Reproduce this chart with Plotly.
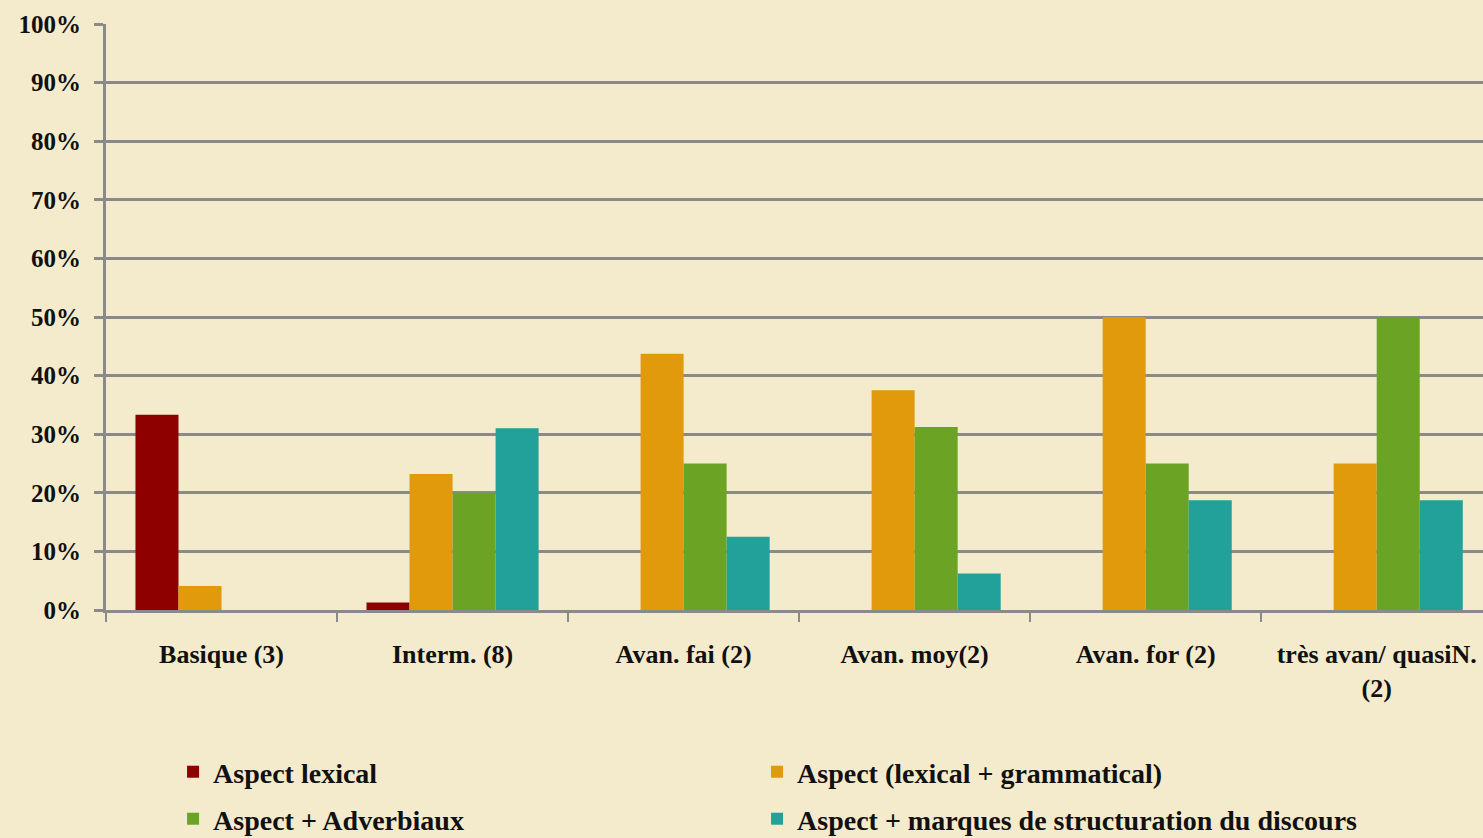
import plotly.graph_objects as go

categories = ["Basique (3)", "Interm. (8)", "Avan. fai (2)", "Avan. moy(2)", "Avan. for (2)", "très avan/ quasiN.<br>(2)"]
series_names = ["Aspect lexical", "Aspect (lexical + grammatical)", "Aspect + Adverbiaux", "Aspect + marques de structuration du discours"]
lexical = [0.333, 0.013, 0, 0, 0, 0]
lex_gram = [0.041, 0.232, 0.4375, 0.375, 0.50, 0.25]
adverbiaux = [0, 0.20, 0.25, 0.3125, 0.25, 0.50]
structuration = [0, 0.31, 0.125, 0.0625, 0.1875, 0.1875]
y_ticks = [0, 0.1, 0.2, 0.3, 0.4, 0.5, 0.6, 0.7, 0.8, 0.9, 1.0]
y_tick_labels = ["0%", "10%", "20%", "30%", "40%", "50%", "60%", "70%", "80%", "90%", "100%"]

colors = ["#8E0000", "#E09A0C", "#6BA424", "#21A19A"]
values = [lexical, lex_gram, adverbiaux, structuration]
legend_ids = ["legend", "legend2", "legend3", "legend4"]
legend_pos = [(0.0487, -0.2765), (0.4728, -0.2765), (0.0487, -0.3567), (0.4728, -0.3567)]

FONT = "Liberation Serif"
BG = "#F4EBCD"
GRID = "#8A8A8A"
TXT = "#111111"

fig = go.Figure()
for name, vals, col, lg in zip(series_names, values, colors, legend_ids):
    fig.add_trace(go.Bar(
        x=categories, y=vals, name=name, marker=dict(color=col, line=dict(width=0)),
        legend=lg, showlegend=True,
    ))

legend_layout = {}
for lg, (lx, ly) in zip(legend_ids, legend_pos):
    legend_layout[lg] = dict(
        x=lx, y=ly, xanchor="left", yanchor="middle", itemwidth=30,
        font=dict(family=FONT, size=28, weight="bold", color=TXT),
        bgcolor="rgba(0,0,0,0)",
    )

fig.update_layout(
    width=1483, height=838,
    paper_bgcolor=BG, plot_bgcolor=BG,
    margin=dict(l=106, r=0, t=24, b=228, autoexpand=False),
    showlegend=True,
    barmode="group", bargap=0.255, bargroupgap=0,
    font=dict(family=FONT, color=TXT),
    xaxis=dict(
        range=[-0.5, 5.46], showgrid=False, showline=True, linecolor=GRID, linewidth=3,
        ticks="outside", tickson="boundaries", ticklen=9, tickwidth=2, tickcolor=GRID,
        tickfont=dict(family=FONT, size=26, weight="bold", color=TXT),
        tickangle=0, ticklabelstandoff=19, automargin=False,
    ),
    yaxis=dict(
        range=[0, 1.0], tickvals=y_ticks, ticktext=y_tick_labels,
        showgrid=True, gridcolor=GRID, gridwidth=2.5,
        showline=True, linecolor=GRID, linewidth=3,
        ticks="outside", ticklen=9, tickwidth=2.5, tickcolor=GRID,
        tickfont=dict(family=FONT, size=25, weight="bold", color=TXT),
        zeroline=False, ticklabelstandoff=8, automargin=False,
    ),
    **legend_layout,
)

fig.write_html(
    "out.html",
    config={"displayModeBar": False},
    post_script="document.body.style.margin='0';document.body.style.padding='0';",
)
